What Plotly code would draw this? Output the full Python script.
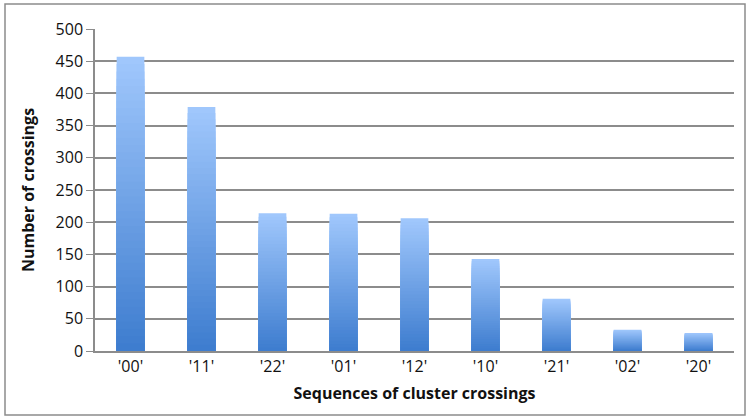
import plotly.graph_objects as go

categories = ["'00'", "'11'", "'22'", "'01'", "'12'", "'10'", "'21'", "'02'", "'20'"]
counts = [457, 379, 214, 213, 206, 143, 81, 33, 28]
y_ticks = [0, 50, 100, 150, 200, 250, 300, 350, 400, 450, 500]

top_rgb = (160, 199, 252)
bot_rgb = (62, 125, 207)
N = 40

fig = go.Figure()
for i in range(N):
    f = i / (N - 1)
    c = tuple(int(round(top_rgb[k] + (bot_rgb[k] - top_rgb[k]) * f)) for k in range(3))
    frac = (N - i) / N
    fig.add_trace(go.Bar(
        x=categories, y=[v * frac for v in counts],
        marker=dict(color="rgb(%d,%d,%d)" % c, line=dict(width=0)),
        hoverinfo="skip" if i else None, showlegend=False,
    ))

fig.update_layout(
    width=751, height=417, barmode="overlay", bargap=0.61,
    margin=dict(l=95, r=17, t=29, b=66, autoexpand=False),
    paper_bgcolor="white", plot_bgcolor="white",
    font=dict(family="Open Sans, Liberation Sans, sans-serif", size=16, color="#111"),
    showlegend=False,
)
fig.update_yaxes(
    range=[0, 500], tickvals=y_ticks, showgrid=True, gridcolor="#8c8c8c", gridwidth=1.5,
    showline=True, linecolor="#8c8c8c", linewidth=1.5, ticks="outside", ticklen=7,
    tickcolor="#8c8c8c", tickfont=dict(size=16), automargin=False,
    title=dict(text="<b>Number of crossings</b>", font=dict(size=16), standoff=17),
)
fig.update_xaxes(
    showline=True, linecolor="#8c8c8c", linewidth=1.5, tickfont=dict(size=16), automargin=False,
    title=dict(text="<b>Sequences of cluster crossings</b>", font=dict(size=16), standoff=12),
)
fig.add_shape(type="rect", xref="paper", yref="paper",
              x0=-90/639, x1=(745-95)/639, y0=-(415-351)/322, y1=1+(29-4)/322,
              line=dict(color="#8c8c8c", width=1.5), fillcolor="rgba(0,0,0,0)")
fig.write_html("out.html", config={"displayModeBar": False},
               post_script="document.body.style.margin='0';")
